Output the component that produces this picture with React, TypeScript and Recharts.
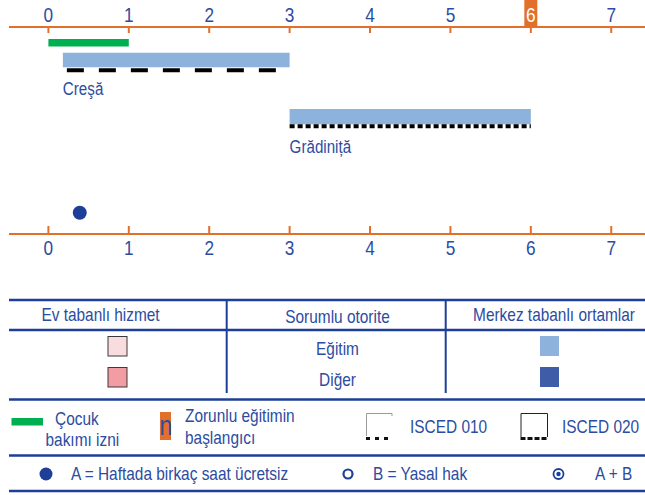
import React from 'react';
import { ComposedChart, XAxis, YAxis, ReferenceArea, ReferenceLine, Scatter } from 'recharts';

// ---- data ----
const ageTicks = [0, 1, 2, 3, 4, 5, 6, 7];
const compulsoryAge = 6;
const leaveRange = [0, 1];
const cresaRange = [0.18, 3];
const gradinitaRange = [3, 6];
const freeHoursPoints = [{ age: 0.39 }];
const settingLabels = ['Creşă', 'Grădiniță'];
const tableHeaders = ['Ev tabanlı hizmet', 'Sorumlu otorite', 'Merkez tabanlı ortamlar'];
const authorityLabels = ['Eğitim', 'Diğer'];
const legendLeave = ['Çocuk', 'bakımı izni'];
const legendCompulsory = ['Zorunlu eğitimin', 'başlangıcı'];
const legendIsced = ['ISCED 010', 'ISCED 020'];
const legendAccess = ['A = Haftada birkaç saat ücretsiz', 'B = Yasal hak', 'A + B'];

// ---- style ----
const ORANGE = '#e2702a';
const BLUE_TXT = '#2c4c9f';
const BLUE_LINE = '#1d3f97';
const GREEN = '#00b050';
const LIGHT_BLUE = '#8db3dc';
const DARK_BLUE_SQ = '#3f5ca9';
const PINK_LIGHT = '#f9dcdd';
const PINK = '#f29ca3';
const FONT = '"Liberation Sans", Arial, sans-serif';
const NARROW = 0.82;
const LEG_SIZE = 18.8;

// narrow-looking text (condensed horizontally)
const NText = ({ x, y, size = LEG_SIZE, fill = BLUE_TXT, anchor = 'start', children }: any) => (
  <text
    transform={`translate(${x},${y}) scale(${NARROW},1)`}
    x={0}
    y={0}
    textAnchor={anchor}
    fill={fill}
    fontSize={size}
    fontFamily={FONT}
  >
    {children}
  </text>
);

// lane layout (px from top of plot area)
const LANE = {
  leave: [12, 19.5],
  cresaBar: [25.7, 40.3],
  cresaDash: 43.3,
  cresaLabel: [52, 67.5],
  gradBar: [82, 97.3],
  gradDash: 99.3,
  gradLabel: [111, 126],
  dot: 185.7,
};

const TopTick = (props: any) => {
  const { x, y, payload } = props;
  const hl = payload.value === compulsoryAge;
  return (
    <g>
      {hl && <rect x={x - 6.5} y={y - 27} width={13} height={27} fill={ORANGE} />}
      <line x1={x} x2={x} y1={y} y2={y + 6} stroke={ORANGE} strokeWidth={2} />
      <NText x={x} y={y - 5} anchor="middle" size={21} fill={hl ? '#ffffff' : BLUE_TXT}>
        {payload.value}
      </NText>
    </g>
  );
};

const BottomTick = (props: any) => {
  const { x, y, payload } = props;
  return (
    <g>
      <line x1={x} x2={x} y1={y - 8} y2={y} stroke={ORANGE} strokeWidth={2} />
      <NText x={x} y={y + 21} anchor="middle" size={21}>
        {payload.value}
      </NText>
    </g>
  );
};

const AreaLabel = (props: any) => {
  const vb = props.viewBox || {};
  return (
    <NText x={vb.x} y={vb.y + vb.height} size={18.5}>
      {props.text}
    </NText>
  );
};

const Legend = () => {
  const hLines = [300, 330, 399.5, 455.5, 491];
  return (
    <svg width={645} height={495} style={{ position: 'absolute', left: 0, top: 0 }}>
      {hLines.map((y) => (
        <line key={y} x1={9} x2={645} y1={y} y2={y} stroke={BLUE_LINE} strokeWidth={2.5} />
      ))}
      <line x1={226.7} x2={226.7} y1={300} y2={393} stroke={BLUE_LINE} strokeWidth={2} />
      <line x1={445.7} x2={445.7} y1={300} y2={393} stroke={BLUE_LINE} strokeWidth={2} />
      <NText x={100.5} y={320.5} anchor="middle">{tableHeaders[0]}</NText>
      <NText x={337.5} y={322.5} anchor="middle">{tableHeaders[1]}</NText>
      <NText x={554} y={320.5} anchor="middle">{tableHeaders[2]}</NText>
      <rect x={108} y={336.5} width={19} height={19.5} fill={PINK_LIGHT} stroke="#3a3a3a" strokeWidth={1} />
      <rect x={108} y={367.5} width={19} height={19.5} fill={PINK} stroke="#3a3a3a" strokeWidth={1} />
      <rect x={540} y={336} width={19} height={20} fill={LIGHT_BLUE} />
      <rect x={540} y={367} width={19} height={20} fill={DARK_BLUE_SQ} />
      <NText x={337.5} y={355} anchor="middle">{authorityLabels[0]}</NText>
      <NText x={337.5} y={386} anchor="middle">{authorityLabels[1]}</NText>

      <rect x={11.5} y={418} width={31.5} height={7.5} fill={GREEN} />
      <NText x={55} y={424.5}>{legendLeave[0]}</NText>
      <NText x={45.5} y={445.5}>{legendLeave[1]}</NText>
      <rect x={160} y={412} width={11} height={28} fill={ORANGE} />
      <NText x={166} y={435} anchor="middle" size={28}>n</NText>
      <NText x={185} y={422}>{legendCompulsory[0]}</NText>
      <NText x={185} y={444}>{legendCompulsory[1]}</NText>

      <path d="M366.5 436 V413.5 H392 V416" fill="none" stroke="#9a9a9a" strokeWidth={1} />
      <line x1={366} x2={392.5} y1={438.5} y2={438.5} stroke="#111" strokeWidth={3} strokeDasharray="4 5" />
      <NText x={410} y={432.5}>{legendIsced[0]}</NText>
      <path d="M521 437 V413.5 H547.5 V437" fill="none" stroke="#222" strokeWidth={1} />
      <line x1={520.5} x2={548} y1={438.5} y2={438.5} stroke="#111" strokeWidth={3} strokeDasharray="5 2" />
      <NText x={562} y={432.5}>{legendIsced[1]}</NText>

      <circle cx={46} cy={474} r={6.5} fill={BLUE_LINE} />
      <NText x={71} y={480}>{legendAccess[0]}</NText>
      <circle cx={348} cy={474} r={4.5} fill="none" stroke={BLUE_LINE} strokeWidth={2.2} />
      <NText x={373} y={480}>{legendAccess[1]}</NText>
      <circle cx={558.5} cy={474} r={5} fill="none" stroke={BLUE_LINE} strokeWidth={1.8} />
      <circle cx={558.5} cy={474} r={2.2} fill={BLUE_LINE} />
      <NText x={595} y={480}>{legendAccess[2]}</NText>
    </svg>
  );
};

export default function App() {
  const dotData = freeHoursPoints.map((p) => ({ age: p.age, lane: LANE.dot }));
  return (
    <div style={{ position: 'absolute', left: 0, top: 0, width: 645, height: 495, background: '#fff', fontFamily: FONT }}>
      <ComposedChart
        width={645}
        height={265}
        data={dotData}
        margin={{ top: 0, right: 0, bottom: 0, left: 9 }}
      >
        <XAxis
          xAxisId="top"
          orientation="top"
          type="number"
          dataKey="age"
          domain={[-0.49, 7.42]}
          ticks={ageTicks}
          allowDataOverflow
          height={27}
          tickLine={false}
          tickSize={0}
          tickMargin={0}
          axisLine={{ stroke: ORANGE, strokeWidth: 2 }}
          tick={<TopTick />}
          interval={0}
        />
        <XAxis
          xAxisId="bottom"
          orientation="bottom"
          type="number"
          dataKey="age"
          domain={[-0.49, 7.42]}
          ticks={ageTicks}
          allowDataOverflow
          height={31}
          tickLine={false}
          tickSize={0}
          tickMargin={0}
          axisLine={{ stroke: ORANGE, strokeWidth: 2 }}
          tick={<BottomTick />}
          interval={0}
        />
        <YAxis yAxisId="lane" type="number" domain={[0, 207]} reversed hide allowDataOverflow width={0} />

        <ReferenceArea xAxisId="top" yAxisId="lane" x1={leaveRange[0]} x2={leaveRange[1]} y1={LANE.leave[0]} y2={LANE.leave[1]} fill={GREEN} fillOpacity={1} stroke="none" ifOverflow="visible" />

        <ReferenceArea xAxisId="top" yAxisId="lane" x1={cresaRange[0]} x2={cresaRange[1]} y1={LANE.cresaBar[0]} y2={LANE.cresaBar[1]} fill={LIGHT_BLUE} fillOpacity={1} stroke="none" ifOverflow="visible" />
        <ReferenceLine xAxisId="top" yAxisId="lane" segment={[{ x: cresaRange[0], y: LANE.cresaDash }, { x: cresaRange[1], y: LANE.cresaDash }]} stroke="#000" strokeWidth={4} strokeDasharray="17 15" strokeDashoffset={28} ifOverflow="visible" />
        <ReferenceArea xAxisId="top" yAxisId="lane" x1={cresaRange[0]} x2={cresaRange[1]} y1={LANE.cresaLabel[0]} y2={LANE.cresaLabel[1]} fill="none" fillOpacity={0} stroke="none" ifOverflow="visible"
          label={<AreaLabel text={settingLabels[0]} />} />

        <ReferenceArea xAxisId="top" yAxisId="lane" x1={gradinitaRange[0]} x2={gradinitaRange[1]} y1={LANE.gradBar[0]} y2={LANE.gradBar[1]} fill={LIGHT_BLUE} fillOpacity={1} stroke="none" ifOverflow="visible" />
        <ReferenceLine xAxisId="top" yAxisId="lane" segment={[{ x: gradinitaRange[0], y: LANE.gradDash }, { x: gradinitaRange[1], y: LANE.gradDash }]} stroke="#000" strokeWidth={4} strokeDasharray="5 3" ifOverflow="visible" />
        <ReferenceArea xAxisId="top" yAxisId="lane" x1={gradinitaRange[0]} x2={gradinitaRange[1]} y1={LANE.gradLabel[0]} y2={LANE.gradLabel[1]} fill="none" fillOpacity={0} stroke="none" ifOverflow="visible"
          label={<AreaLabel text={settingLabels[1]} />} />

        <Scatter xAxisId="top" yAxisId="lane" data={dotData} dataKey="lane" fill={BLUE_LINE} isAnimationActive={false}
          shape={(p: any) => <circle cx={p.cx} cy={p.cy} r={7} fill={BLUE_LINE} />} />
      </ComposedChart>
      <Legend />
    </div>
  );
}
